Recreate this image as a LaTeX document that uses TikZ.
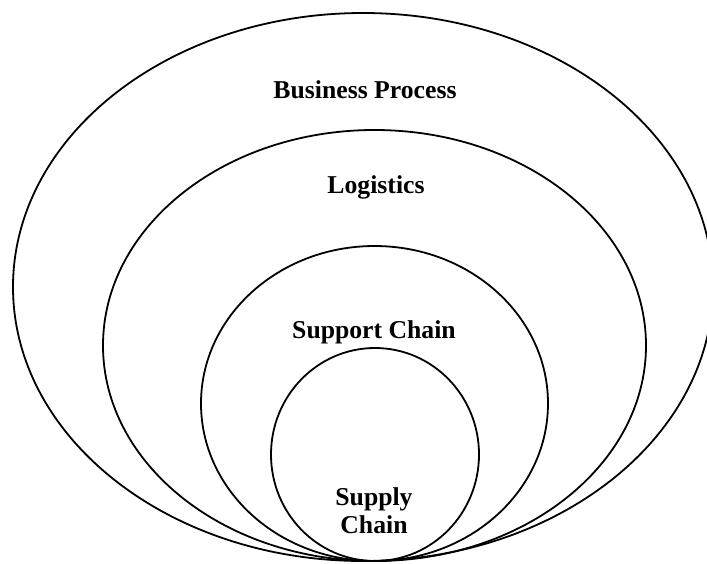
\documentclass[tikz,border=0pt]{standalone}
\usepackage{fontspec}
\setmainfont{Liberation Serif}
\begin{document}
\begin{tikzpicture}[x=1pt,y=-1pt,
  ring/.style={draw=black,line width=1.8pt},
  lbl/.style={font=\fontsize{25.7}{28}\selectfont\bfseries,inner sep=0pt,align=center}]
\useasboundingbox (0,0) rectangle (707,563);
\clip (0,0) rectangle (707,563);
\draw[ring] (363,287) ellipse [x radius=350pt, y radius=274pt];
\draw[ring] (374.5,345.5) ellipse [x radius=271.5pt, y radius=215.5pt];
\draw[ring] (374.5,403.5) ellipse [x radius=173.5pt, y radius=157.5pt];
\draw[ring] (375,454.5) ellipse [x radius=104pt, y radius=106.5pt];
\node[lbl] (bp) at (365,90) {Business Process};
\node[lbl] (lg) at (376,187) {Logistics};
\node[lbl] (sc) at (374,332) {Support Chain};
\node[lbl] (sp) at (374,511) {Supply\\Chain};
\end{tikzpicture}
\end{document}
